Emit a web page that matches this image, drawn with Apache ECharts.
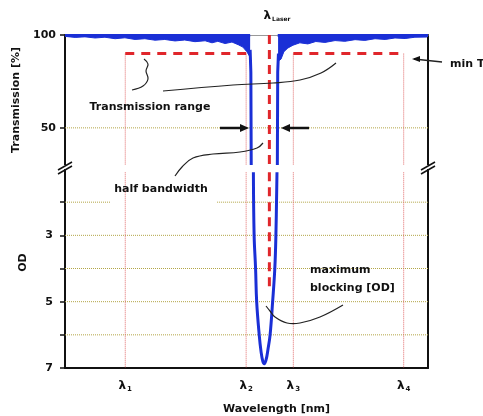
<!DOCTYPE html>
<html>
<head>
<meta charset="utf-8">
<script src="https://cdn.jsdelivr.net/npm/echarts@6/dist/echarts.min.js"></script>
<style>
html, body { margin: 0; padding: 0; background: #fff; }
#chart { width: 483px; height: 416px; }
</style>
</head>
<body>
<div id="chart"></div>
<script>
// 波长位置 (相对单位 0-100)
const lambdaPos = [16.6, 49.9, 62.9, 93.3];
const lambdaSubs = ['1', '2', '3', '4'];
const laserPos = 56.3;
const minT = 90;

// 透射区上方的噪声带 (下包络)
const bandLeftX = [0.3, 2.8, 5.5, 8.3, 11, 13.8, 16.5, 19.3, 22, 24.8, 27.5, 30.3, 33, 35.8, 38.6, 40.5, 42.1, 44.1, 46, 47.7, 49, 50.1, 51];
const bandLeftT = [99.2, 98.7, 99.0, 98.4, 98.8, 98.0, 98.5, 97.6, 98.0, 97.2, 97.6, 96.8, 97.3, 96.4, 96.9, 95.8, 96.6, 95.4, 96.2, 94.8, 93.5, 91, 88];
const bandRightX = [58.7, 59.5, 60.3, 61.4, 62.8, 64.7, 66.9, 69.1, 71.6, 74.4, 77.1, 79.9, 82.6, 85.4, 88.2, 90.9, 93.7, 96.4, 99.7];
const bandRightT = [86, 87, 91, 93, 94.5, 95.8, 95.2, 96.5, 96.0, 97.0, 96.6, 97.5, 97.1, 98.0, 97.6, 98.4, 98.1, 98.8, 98.9];

// 陷波边缘 (透射 %)
const edgeLeftX = [51.0, 51.2, 51.3];
const edgeLeftT = [92, 80, 30];
const edgeRightX = [58.5, 58.6, 58.8];
const edgeRightT = [30, 80, 90];

// 陷波底部 (OD)
const notchX = [51.9, 52.1, 52.5, 52.8, 53.5, 54.0, 54.5, 54.9, 55.4, 55.9, 56.5, 57.2, 57.8, 58.1, 58.4];
const notchOD = [1.1, 3.0, 4.0, 5.0, 6.0, 6.5, 6.8, 6.87, 6.75, 6.45, 6.0, 5.0, 4.0, 3.0, 1.1];

// 刻度
const transTicks = [50, 100];
const odTicks = [2, 3, 4, 5, 6, 7];
const odLabels = [3, 5, 7];
const odGrid = [3, 4, 5, 6];

const chart = echarts.init(document.getElementById('chart'));

const FONT = 'DejaVu Sans';
const BLUE = '#1a2fd6';
const RED = '#e0262b';
const GRIDC = '#b3a647';
const DOTRED = '#e06a6a';

const zip = (xs, ys) => xs.map((x, i) => [x, ys[i]]);

function seg(gi, pts, color, width, type, z) {
    return {
        type: 'line', xAxisIndex: gi, yAxisIndex: gi, data: pts,
        symbol: 'none', silent: true, animation: false, z: z || 2,
        lineStyle: { color: color, width: width, type: type }
    };
}

const series = [];
// 网格线
series.push(seg(0, [[0, 50], [100, 50]], GRIDC, 1, 'dotted', 1));
series.push(seg(1, [[0, 2], [12.4, 2]], GRIDC, 1, 'dotted', 1));
series.push(seg(1, [[41.9, 2], [100, 2]], GRIDC, 1, 'dotted', 1));
odGrid.forEach(v => series.push(seg(1, [[0, v], [100, v]], GRIDC, 1, 'dotted', 1)));
// 波长竖线
lambdaPos.forEach(x => {
    series.push(seg(0, [[x, minT], [x, 30]], DOTRED, 1, 'dotted', 1));
    series.push(seg(1, [[x, 1.1], [x, 7]], DOTRED, 1, 'dotted', 1));
});
// 噪声带
[[bandLeftX, bandLeftT], [bandRightX, bandRightT]].forEach(([xs, ys]) => {
    series.push({
        type: 'line', xAxisIndex: 0, yAxisIndex: 0, data: zip(xs, ys),
        symbol: 'none', silent: true, animation: false, z: 3,
        lineStyle: { color: BLUE, width: 1 },
        areaStyle: { color: BLUE, opacity: 1, origin: 'end' }
    });
});
// 顶部 100% 线
series.push(seg(0, [[0, 99.7], [51, 99.7]], BLUE, 3, 'solid', 3));
series.push(seg(0, [[58.6, 99.7], [100, 99.7]], BLUE, 3, 'solid', 3));
// 陷波边缘
series.push(seg(0, zip(edgeLeftX, edgeLeftT), BLUE, 3, 'solid', 4));
series.push(seg(0, zip(edgeRightX, edgeRightT), BLUE, 3, 'solid', 4));
series.push(Object.assign(seg(1, zip(notchX, notchOD), BLUE, 3, 'solid', 4), { smooth: 0.4 }));
// 最小透射 (红色虚线)
series.push(seg(0, [[lambdaPos[0], minT], [lambdaPos[1], minT]], RED, 3, [9, 7], 5));
series.push(seg(0, [[lambdaPos[2], minT], [lambdaPos[3], minT]], RED, 3, [9, 7], 5));
// 激光线
series.push(seg(0, [[laserPos, 100], [laserPos, 30]], RED, 3, [9, 6], 5));
series.push(seg(1, [[laserPos, 1.1], [laserPos, 4.7]], RED, 3, [9, 6], 5));

const labelStyle = { color: '#111', fontFamily: FONT, fontWeight: 'bold', fontSize: 11 };

const options = {
    animation: false,
    grid: [
        { left: 65, right: 55, top: 35, height: 130 },
        { left: 65, right: 55, top: 169, height: 200 }
    ],
    xAxis: [
        {
            gridIndex: 0, type: 'value', min: 0, max: 100, position: 'top',
            axisLine: { show: true, lineStyle: { color: '#999', width: 1 } },
            axisTick: { show: false }, axisLabel: { show: false }, splitLine: { show: false }
        },
        {
            gridIndex: 1, type: 'value', min: 0, max: 100, position: 'bottom',
            axisLine: { show: true, onZero: false, lineStyle: { color: '#111', width: 2 } },
            axisTick: { show: false },
            axisLabel: {
                customValues: lambdaPos, margin: 10,
                formatter: v => '{l|λ}{s|' + lambdaSubs[lambdaPos.indexOf(v)] + '}',
                rich: {
                    l: { fontFamily: FONT, fontWeight: 'bold', fontSize: 12, color: '#111' },
                    s: { fontFamily: FONT, fontWeight: 'bold', fontSize: 7, color: '#111', padding: [8, 0, 0, 1] }
                }
            },
            splitLine: { show: false },
            name: 'Wavelength [nm]', nameLocation: 'middle', nameGap: 36,
            nameTextStyle: Object.assign({}, labelStyle, { padding: [0, 0, 0, 60] })
        }
    ],
    yAxis: [
        {
            gridIndex: 0, type: 'value', min: 30, max: 100,
            axisLine: { show: true, onZero: false, lineStyle: { color: '#111', width: 2 } },
            axisTick: { show: true, customValues: transTicks, length: 5, lineStyle: { color: '#111', width: 1.5 } },
            axisLabel: Object.assign({ customValues: transTicks, margin: 9 }, labelStyle),
            splitLine: { show: false },
            name: 'Transmission [%]', nameLocation: 'middle', nameGap: 36, nameTextStyle: labelStyle
        },
        {
            gridIndex: 1, type: 'value', min: 1, max: 7, inverse: true,
            axisLine: { show: true, onZero: false, lineStyle: { color: '#111', width: 2 } },
            axisTick: { show: true, customValues: odTicks, length: 5, lineStyle: { color: '#111', width: 1.5 } },
            axisLabel: Object.assign({ customValues: odLabels, margin: 12 }, labelStyle),
            splitLine: { show: false },
            name: 'OD', nameLocation: 'middle', nameGap: 36,
            nameTextStyle: Object.assign({}, labelStyle, { padding: [0, 0, 0, 12] })
        },
        {
            gridIndex: 0, type: 'value', min: 30, max: 100, position: 'right',
            axisLine: { show: true, onZero: false, lineStyle: { color: '#111', width: 2 } },
            axisTick: { show: false }, axisLabel: { show: false }, splitLine: { show: false }
        },
        {
            gridIndex: 1, type: 'value', min: 1, max: 7, inverse: true, position: 'right',
            axisLine: { show: true, onZero: false, lineStyle: { color: '#111', width: 2 } },
            axisTick: { show: false }, axisLabel: { show: false }, splitLine: { show: false }
        }
    ],
    series: series
};

// 标注 (文字、曲线、箭头、断轴符号)
const ink = '#222';
const curve = (pts, w) => ({
    type: 'polyline', silent: true, z: 20,
    shape: { points: pts, smooth: 0.4 },
    style: { stroke: ink, lineWidth: w || 1.2, fill: null }
});
const text = (s, x, y, size, align) => ({
    type: 'text', silent: true, z: 20, x: x, y: y,
    style: { text: s, fill: '#111', font: 'bold ' + (size || 11) + 'px "' + FONT + '"', align: align || 'left', verticalAlign: 'middle' }
});
const head = (pts) => ({ type: 'polygon', silent: true, z: 20, shape: { points: pts }, style: { fill: '#111' } });
const line = (x1, y1, x2, y2, w, c) => ({ type: 'line', silent: true, z: 20, shape: { x1, y1, x2, y2 }, style: { stroke: c || '#111', lineWidth: w } });

options.graphic = [
    {
        type: 'text', silent: true, z: 20, x: 277, y: 16,
        style: {
            text: '{a|λ}{b|Laser}', align: 'center', verticalAlign: 'middle',
            rich: {
                a: { font: 'bold 12px "' + FONT + '"', fill: '#111' },
                b: { font: 'bold 6px "' + FONT + '"', fill: '#111', padding: [7, 0, 0, 1] }
            }
        }
    },
    text('Transmission range', 150, 107, 11, 'center'),
    text('half bandwidth', 161, 189, 11, 'center'),
    text('maximum', 310, 270, 11, 'left'),
    text('blocking [OD]', 310, 288, 11, 'left'),
    text('min T', 450, 64, 11, 'left'),
    curve([[144, 59], [148, 64], [146, 71], [148, 79], [143, 86], [132, 90]]),
    curve([[163, 91], [233, 85], [273, 83], [300, 80], [321, 73], [336, 63]]),
    curve([[175, 176], [182, 167], [193, 158], [213, 154], [240, 152], [257, 148], [263, 143]]),
    curve([[266, 306], [270, 311], [275, 317], [287, 323], [300, 323], [320, 317], [343, 305]]),
    curve([[442, 62], [414, 59]], 1.3),
    head([[420, 56], [412, 59], [420, 62]]),
    line(220, 128, 241, 128, 2.5),
    head([[240, 124], [249, 128], [240, 132]]),
    line(309, 128, 289, 128, 2.5),
    head([[290, 124], [281, 128], [290, 132]]),
    // 断轴符号
    { type: 'rect', silent: true, z: 19, shape: { x: 58, y: 165, width: 14, height: 4 }, style: { fill: '#fff' } },
    line(58, 170, 72, 162, 1.5),
    line(58, 174, 72, 166, 1.5),
    { type: 'rect', silent: true, z: 19, shape: { x: 421, y: 165, width: 14, height: 4 }, style: { fill: '#fff' } },
    line(421, 170, 435, 162, 1.5),
    line(421, 174, 435, 166, 1.5)
];

chart.setOption(options);
</script>
</body>
</html>
